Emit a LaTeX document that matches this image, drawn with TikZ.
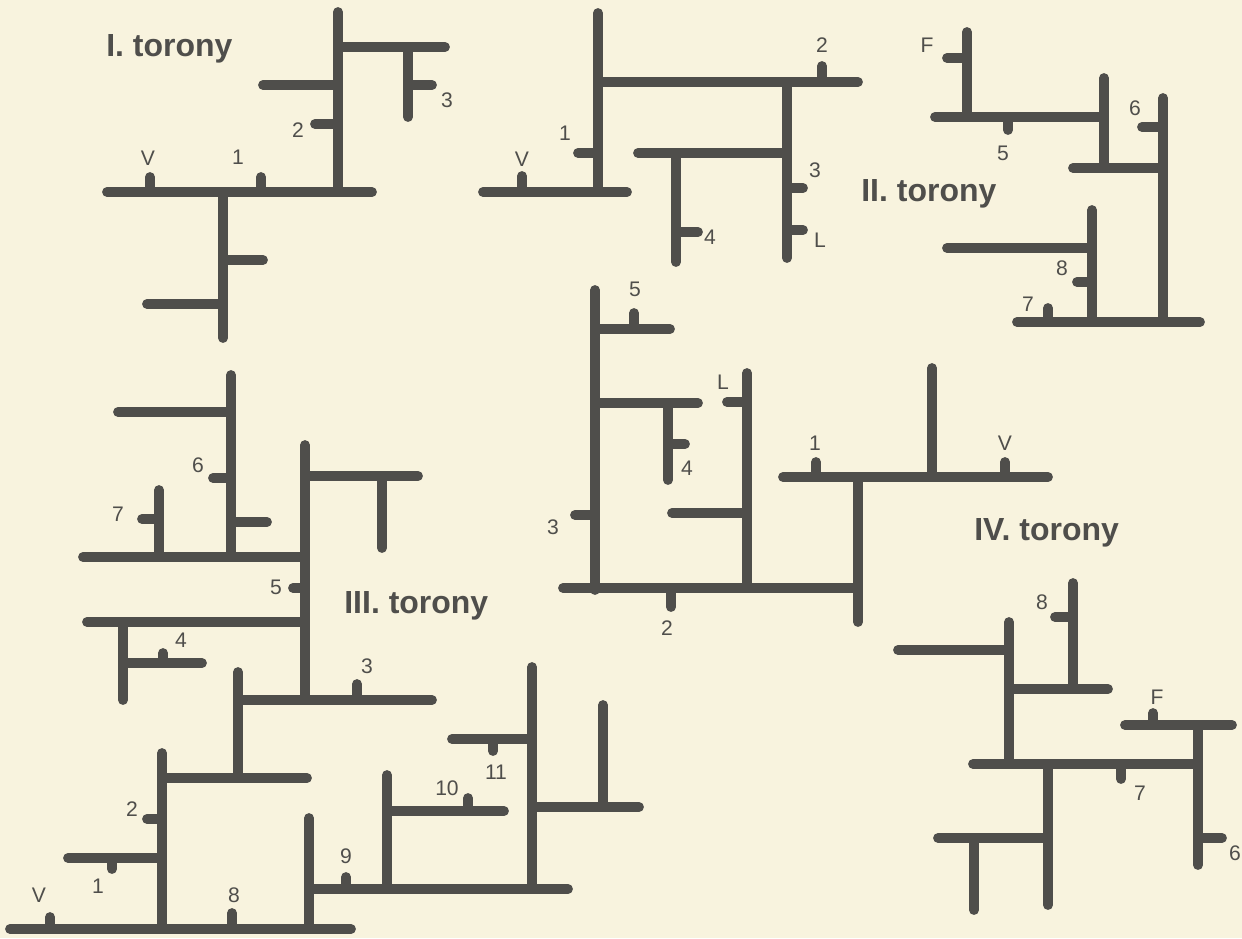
\documentclass[tikz,border=0pt]{standalone}
\usepackage{fontspec}
\setmainfont{Liberation Sans}
\definecolor{paper}{HTML}{F8F3DE}
\definecolor{ink}{HTML}{4F4E4B}

\begin{document}
\begin{tikzpicture}[x=0.02cm, y=-0.02cm,
                    wall/.style={draw=ink, line width=5.6pt, line cap=round},
                    num/.style={text=ink, font=\fontsize{12}{12}\selectfont, inner sep=0pt},
                    title/.style={text=ink, font=\bfseries\fontsize{18.2}{18.2}\selectfont, inner sep=0pt}]
        \fill[paper] (0,0) rectangle (1242,938);
        \useasboundingbox (0,0) rectangle (1242,938);
        % I. torony
        \draw[wall] (338,12) -- (338,190);
        \draw[wall] (338,47) -- (445,47);
        \draw[wall] (408,47) -- (408,117);
        \draw[wall] (408,85) -- (432,85);
        \draw[wall] (263,85) -- (338,85);
        \draw[wall] (315,124) -- (338,124);
        \draw[wall] (107,192) -- (372,192);
        \draw[wall] (150,192) -- (150,177);
        \draw[wall] (261,192) -- (261,177);
        \draw[wall] (223,192) -- (223,338);
        \draw[wall] (223,260) -- (263,260);
        \draw[wall] (147,304) -- (223,304);
        \node[title, anchor=west] (t1) at (106,49) {I. torony};
        \node[num] (t1v) at (148,158) {V};
        \node[num] (t1a) at (238,157) {1};
        \node[num] (t1b) at (298,130) {2};
        \node[num] (t1c) at (447,100) {3};
        % II. torony
        \draw[wall] (598,13) -- (598,192);
        \draw[wall] (598,82) -- (858,82);
        \draw[wall] (822,82) -- (822,66);
        \draw[wall] (787,82) -- (787,258);
        \draw[wall] (638,153) -- (787,153);
        \draw[wall] (787,188) -- (803,188);
        \draw[wall] (787,230) -- (803,230);
        \draw[wall] (676,153) -- (676,262);
        \draw[wall] (676,232) -- (698,232);
        \draw[wall] (578,153) -- (598,153);
        \draw[wall] (483,192) -- (627,192);
        \draw[wall] (522,192) -- (522,176);
        \draw[wall] (967,32) -- (967,117);
        \draw[wall] (947,58) -- (967,58);
        \draw[wall] (935,117) -- (1103,117);
        \draw[wall] (1008,117) -- (1008,130);
        \draw[wall] (1104,78) -- (1104,167);
        \draw[wall] (1073,168) -- (1163,168);
        \draw[wall] (1163,98) -- (1163,320);
        \draw[wall] (1142,127) -- (1163,127);
        \draw[wall] (947,248) -- (1092,248);
        \draw[wall] (1092,210) -- (1092,320);
        \draw[wall] (1077,282) -- (1092,282);
        \draw[wall] (1017,322) -- (1200,322);
        \draw[wall] (1048,322) -- (1048,308);
        \node[title, anchor=west] (t2) at (861,194) {II. torony};
        \node[num] (t2v) at (522,159) {V};
        \node[num] (t2a) at (565,133) {1};
        \node[num] (t2b) at (822,45) {2};
        \node[num] (t2c) at (815,170) {3};
        \node[num] (t2d) at (710,237) {4};
        \node[num] (t2l) at (820,240) {L};
        \node[num] (t2f) at (927,45) {F};
        \node[num] (t2e) at (1003,153) {5};
        \node[num] (t2g) at (1135,108) {6};
        \node[num] (t2h) at (1028,304) {7};
        \node[num] (t2i) at (1062,268) {8};
        % III. torony
        \draw[wall] (231,375) -- (231,553);
        \draw[wall] (118,412) -- (231,412);
        \draw[wall] (213,478) -- (231,478);
        \draw[wall] (231,522) -- (267,522);
        \draw[wall] (159,490) -- (159,553);
        \draw[wall] (142,519) -- (159,519);
        \draw[wall] (83,557) -- (305,557);
        \draw[wall] (305,445) -- (305,700);
        \draw[wall] (305,476) -- (418,476);
        \draw[wall] (382,476) -- (382,548);
        \draw[wall] (293,588) -- (305,588);
        \draw[wall] (87,622) -- (305,622);
        \draw[wall] (123,622) -- (123,700);
        \draw[wall] (123,663) -- (202,663);
        \draw[wall] (163,663) -- (163,653);
        \draw[wall] (240,700) -- (432,700);
        \draw[wall] (357,700) -- (357,684);
        \draw[wall] (238,672) -- (238,777);
        \draw[wall] (162,778) -- (307,778);
        \draw[wall] (162,753) -- (162,928);
        \draw[wall] (147,819) -- (162,819);
        \draw[wall] (68,858) -- (162,858);
        \draw[wall] (112,858) -- (112,869);
        \draw[wall] (10,929) -- (351,929);
        \draw[wall] (50,929) -- (50,917);
        \draw[wall] (232,929) -- (232,913);
        \draw[wall] (309,818) -- (309,929);
        \draw[wall] (309,889) -- (568,889);
        \draw[wall] (346,889) -- (346,877);
        \draw[wall] (387,775) -- (387,889);
        \draw[wall] (387,811) -- (504,811);
        \draw[wall] (468,811) -- (468,798);
        \draw[wall] (532,667) -- (532,889);
        \draw[wall] (452,739) -- (532,739);
        \draw[wall] (493,739) -- (493,751);
        \draw[wall] (532,807) -- (639,807);
        \draw[wall] (603,705) -- (603,807);
        \node[title, anchor=west] (t3) at (344,606) {III. torony};
        \node[num] (t3v) at (39,895) {V};
        \node[num] (t3a) at (98,886) {1};
        \node[num] (t3b) at (132,809) {2};
        \node[num] (t3c) at (367,666) {3};
        \node[num] (t3d) at (181,640) {4};
        \node[num] (t3e) at (276,587) {5};
        \node[num] (t3f) at (198,465) {6};
        \node[num] (t3g) at (118,514) {7};
        \node[num] (t3h) at (234,895) {8};
        \node[num] (t3i) at (346,856) {9};
        \node[num] (t3j) at (447,788) {10};
        \node[num] (t3k) at (496,772) {11};
        % IV. torony
        \draw[wall] (595,290) -- (595,590);
        \draw[wall] (595,329) -- (670,329);
        \draw[wall] (634,329) -- (634,313);
        \draw[wall] (595,403) -- (698,403);
        \draw[wall] (668,403) -- (668,480);
        \draw[wall] (668,444) -- (685,444);
        \draw[wall] (575,515) -- (595,515);
        \draw[wall] (747,373) -- (747,585);
        \draw[wall] (727,402) -- (747,402);
        \draw[wall] (672,513) -- (747,513);
        \draw[wall] (563,588) -- (857,588);
        \draw[wall] (671,588) -- (671,607);
        \draw[wall] (858,478) -- (858,622);
        \draw[wall] (783,477) -- (1048,477);
        \draw[wall] (816,477) -- (816,462);
        \draw[wall] (1005,477) -- (1005,462);
        \draw[wall] (932,368) -- (932,477);
        \draw[wall] (1073,583) -- (1073,687);
        \draw[wall] (1055,617) -- (1073,617);
        \draw[wall] (1009,622) -- (1009,763);
        \draw[wall] (898,650) -- (1009,650);
        \draw[wall] (1009,689) -- (1108,689);
        \draw[wall] (1125,725) -- (1232,725);
        \draw[wall] (1153,725) -- (1153,713);
        \draw[wall] (1198,725) -- (1198,865);
        \draw[wall] (1198,838) -- (1222,838);
        \draw[wall] (973,764) -- (1198,764);
        \draw[wall] (1121,764) -- (1121,779);
        \draw[wall] (1048,764) -- (1048,905);
        \draw[wall] (938,838) -- (1048,838);
        \draw[wall] (974,838) -- (974,910);
        \node[title, anchor=west] (t4) at (974,533) {IV. torony};
        \node[num] (t4v) at (1005,443) {V};
        \node[num] (t4a) at (815,443) {1};
        \node[num] (t4b) at (667,628) {2};
        \node[num] (t4c) at (553,527) {3};
        \node[num] (t4d) at (687,468) {4};
        \node[num] (t4e) at (635,289) {5};
        \node[num] (t4l) at (723,382) {L};
        \node[num] (t4i) at (1042,602) {8};
        \node[num] (t4f) at (1157,697) {F};
        \node[num] (t4h) at (1140,793) {7};
        \node[num] (t4g) at (1235,853) {6};
\end{tikzpicture}
\end{document}
